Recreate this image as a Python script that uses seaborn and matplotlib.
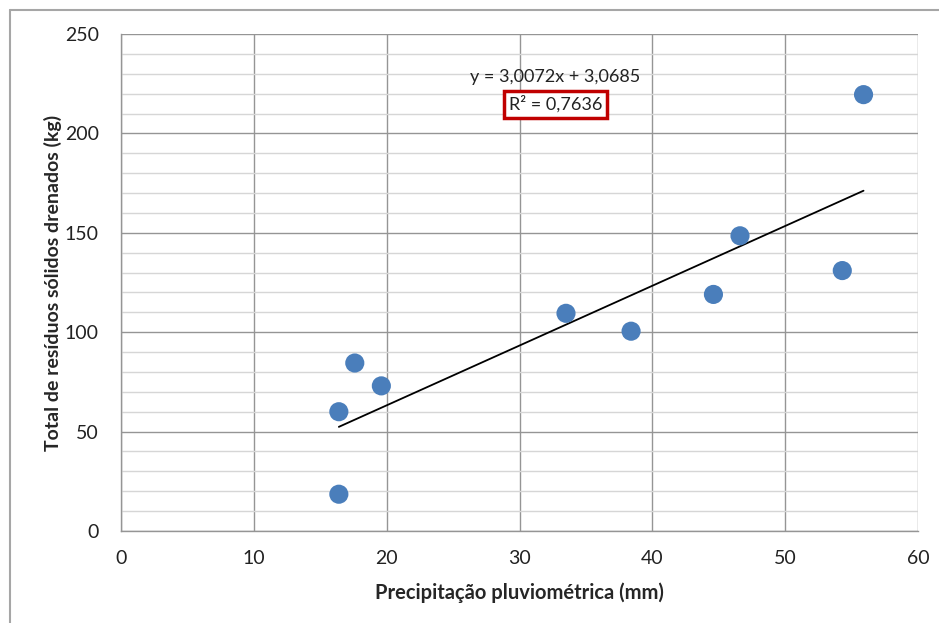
import numpy as np
import pandas as pd
import matplotlib.pyplot as plt
from matplotlib.lines import Line2D
from matplotlib.ticker import MultipleLocator
import seaborn as sns

sns.set_style('white')
plt.rcParams['font.family'] = ['Lato', 'DejaVu Sans']

# data
precip = [16.4, 16.4, 17.6, 19.6, 33.5, 38.4, 44.6, 46.6, 54.3, 55.9]
residuos = [60, 18.5, 84.5, 73, 109.5, 100.5, 119, 148.5, 131, 219.5]
slope, intercept = 3.0072, 3.0685
r2_text = 'R² = 0,7636'
eq_text = 'y = 3,0072x + 3,0685'

df = pd.DataFrame({'x': precip, 'y': residuos})

fig = plt.figure(figsize=(9.39, 6.23), dpi=100)
ax = fig.add_axes([121/939, 1-531/623, (918-121)/939, (531-34)/623])

ax.set_xlim(0, 60)
ax.set_ylim(0, 250)
ax.xaxis.set_major_locator(MultipleLocator(10))
ax.yaxis.set_major_locator(MultipleLocator(50))
ax.yaxis.set_minor_locator(MultipleLocator(10))

ax.grid(True, which='major', axis='x', color='#959595', lw=1)
ax.grid(True, which='major', axis='y', color='#959595', lw=1)
ax.grid(True, which='minor', axis='y', color='#d6d6d6', lw=1)
ax.set_axisbelow(True)

sns.scatterplot(x='x', y='y', data=df, color='#4A7EBB', s=190, edgecolor='none', ax=ax, zorder=3)

xs = np.array([min(precip), max(precip)])
ax.plot(xs, slope*xs + intercept, color='black', lw=1.3, zorder=2)

for s in ['top', 'right']:
    ax.spines[s].set_visible(False)
for s in ['left', 'bottom']:
    ax.spines[s].set_color('#959595')
    ax.spines[s].set_linewidth(1)
ax.tick_params(axis='both', which='major', direction='out', length=6, width=1, color='#959595',
               labelsize=14, labelcolor='#222222')
ax.tick_params(axis='y', which='major', pad=10)
ax.tick_params(axis='x', which='major', pad=8)
ax.tick_params(which='minor', length=0)

ax.set_xlabel('Precipitação pluviométrica (mm)', fontsize=14.5, fontweight='bold', labelpad=11)
ax.set_ylabel('Total de resíduos sólidos drenados (kg)', fontsize=14, fontweight='bold', labelpad=2)

ax.text(32.7, 228.4, eq_text, ha='center', va='center', fontsize=13, color='#222222')
ax.text(32.7, 214.6, r2_text, ha='center', va='center', fontsize=13, color='#222222',
        bbox=dict(boxstyle='square,pad=0.25', fc='white', ec='#C00000', lw=2.5))

# outer chart frame (cropped)
fig.add_artist(Line2D([9.5/939, 1], [1-10/623, 1-10/623], color='#a6a6a6', lw=1.5, transform=fig.transFigure))
fig.add_artist(Line2D([9.5/939, 9.5/939], [0, 1-10/623], color='#a6a6a6', lw=1.5, transform=fig.transFigure))

fig.savefig('out.png', dpi=100)
